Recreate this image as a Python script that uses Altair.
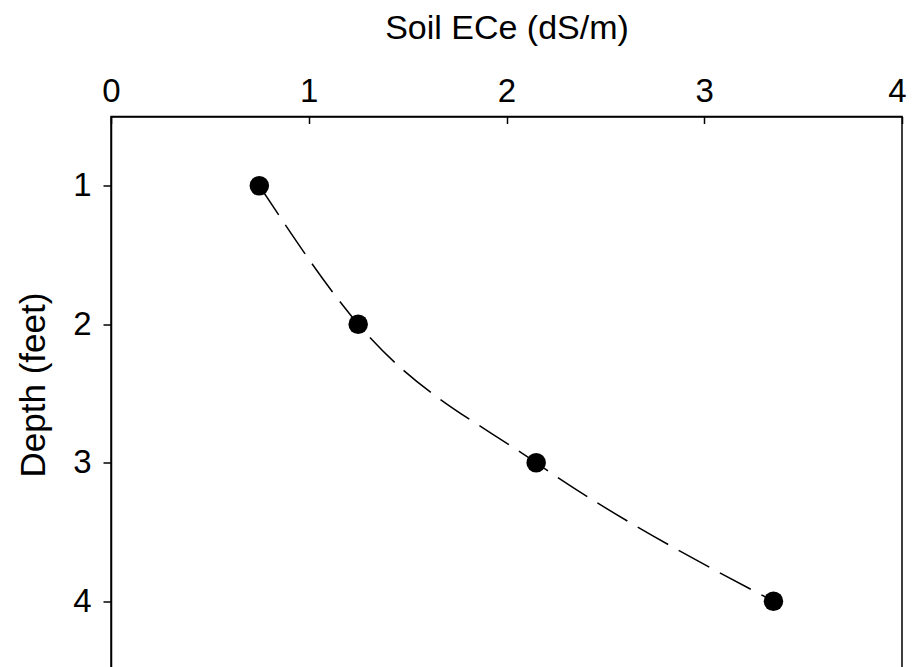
import altair as alt
import pandas as pd

ece = [0.75, 1.25, 2.15, 3.35]
depth = [1, 2, 3, 4]
x_ticks = [0, 1, 2, 3, 4]
y_ticks = [1, 2, 3, 4]

df = pd.DataFrame({"ece": ece, "depth": depth})

FONT = "Liberation Sans"

xscale = alt.Scale(domain=[0, 4], nice=False, zero=False)
yscale = alt.Scale(domain=[0.5, 4.5], nice=False, zero=False, reverse=True)

yaxis = alt.Axis(
    orient="left", values=y_ticks, format="d", grid=False, labelFlush=False,
    tickSize=8, tickColor="black", tickWidth=1.5,
    domainColor="black", domainWidth=1.5,
    labelFont=FONT, labelFontSize=33, labelColor="black", labelPadding=12,
    labelAlign="right", labelBaseline="middle",
    title="Depth (feet)", titleFont=FONT, titleFontSize=35, titleFontWeight="normal",
    titleColor="black", titleX=-60, titleY=268, titleAngle=270, titleBaseline="bottom",
)

main_x_axis = alt.Axis(
    orient="top", values=x_ticks, format="d", grid=False, labelFlush=False,
    ticks=False, tickSize=0, domainColor="black", domainWidth=1.5,
    labelFont=FONT, labelFontSize=33, labelColor="black", labelPadding=8,
    labelOffset={"condition": {"test": "datum.value == 4", "value": -5}, "value": 0},
    title="Soil ECe (dS/m)", titleFont=FONT, titleFontSize=34, titleFontWeight="normal",
    titleColor="black", titleBaseline="alphabetic", titleY=-78.5,
)

tick_x_axis = alt.Axis(
    orient="top", values=x_ticks, grid=False, offset=-7,
    ticks=True, tickSize=7, tickColor="black", tickWidth=1.5,
    domain=False, labels=False, title=None,
)

line = alt.Chart(df).mark_line(
    color="black", strokeWidth=1.5, strokeDash=[35, 12], interpolate="monotone"
).encode(
    x=alt.X("ece:Q", scale=xscale, axis=main_x_axis),
    y=alt.Y("depth:Q", scale=yscale, axis=yaxis),
    order=alt.Order("depth:Q"),
)

points = alt.Chart(df).mark_point(
    filled=True, shape="circle", size=380, color="black", opacity=1
).encode(
    x=alt.X("ece:Q", scale=xscale, axis=tick_x_axis),
    y=alt.Y("depth:Q", scale=yscale, axis=None),
)

chart = alt.layer(line, points).resolve_axis(x="independent", y="independent").properties(
    width=791,
    height=554,
    autosize=alt.AutoSizeParams(type="none"),
    padding={"left": 103, "top": 108.5, "right": 5, "bottom": 0},
    background="white",
).configure_view(stroke="black", strokeWidth=1.5)

chart.save("out.html", embed_options={"renderer": "svg", "actions": False})
